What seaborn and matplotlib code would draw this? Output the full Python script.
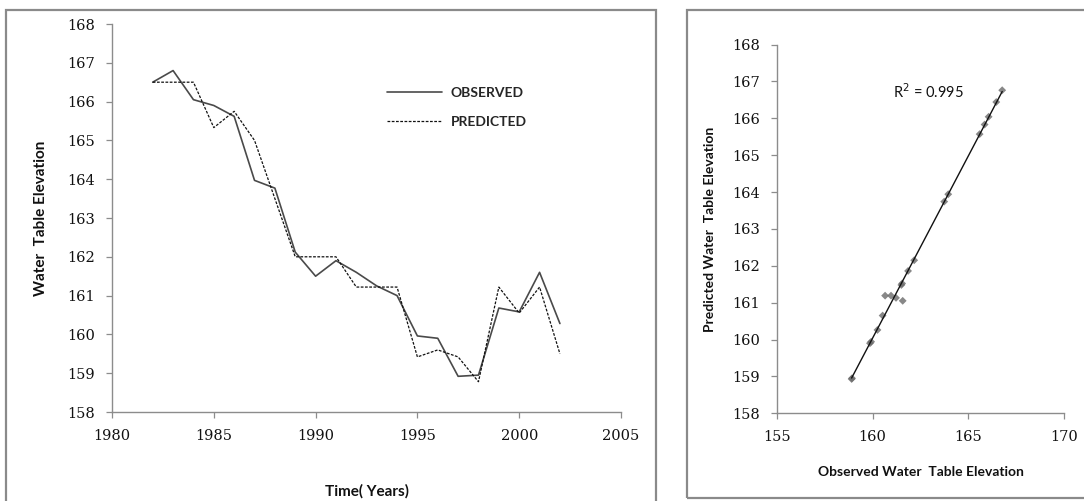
import numpy as np
import pandas as pd
import matplotlib
matplotlib.use("Agg")
import matplotlib.pyplot as plt
from matplotlib.patches import Rectangle
from matplotlib.lines import Line2D
import seaborn as sns

# ---- data ----
years = list(range(1982, 2003))
observed = [166.5, 166.8, 166.05, 165.9, 165.62, 163.97, 163.77, 162.12, 161.5, 161.9,
            161.6, 161.25, 161.0, 159.96, 159.9, 158.92, 158.95, 160.68, 160.58, 161.6, 160.28]
predicted = [166.5, 166.5, 166.5, 165.33, 165.75, 165.0, 163.5, 162.0, 162.0, 162.0,
             161.22, 161.22, 161.22, 159.42, 159.6, 159.42, 158.78, 161.22, 160.55, 161.22, 159.5]

scatter_obs = [166.77, 166.46, 166.06, 165.85, 165.59, 163.95, 163.74, 162.17, 161.85, 161.54,
               161.5, 160.65, 160.96, 161.22, 161.57, 160.52, 160.25, 159.92, 159.86, 158.92, 158.9]
scatter_pred = [166.76, 166.44, 166.04, 165.83, 165.57, 163.94, 163.74, 162.15, 161.86, 161.52,
                161.48, 161.19, 161.19, 161.13, 161.05, 160.65, 160.26, 159.94, 159.9, 158.95, 158.93]

left_xticks = [1980, 1985, 1990, 1995, 2000, 2005]
yticks = list(range(158, 169))
right_xticks = [155, 160, 165, 170]
r2_text = "R$^2$ = 0.995"

sns.set_theme(style="white")
plt.rcParams['font.family'] = ['DejaVu Serif']

W, H = 1084, 501
fig = plt.figure(figsize=(W / 100, H / 100), dpi=100)

def frac(x0, y0, x1, y1):
    return [x0 / W, 1 - y1 / H, (x1 - x0) / W, (y1 - y0) / H]

# outer frames
fig.add_artist(Rectangle((6 / W, 1 - 506 / H), (655.7 - 6) / W, (506 - 10) / H,
                         transform=fig.transFigure, fill=False, edgecolor='#8a8a8a', lw=1.6))
fig.add_artist(Rectangle((686.7 / W, 1 - 498 / H), (1090 - 686.7) / W, (498 - 10) / H,
                         transform=fig.transFigure, fill=False, edgecolor='#8a8a8a', lw=1.6))

label_font = dict(family='Lato', weight='bold', size=11, color='#111111')
tick_color = '#111111'
spine_color = '#8c8c8c'

def style_axes(ax):
    for s in ['top', 'right']:
        ax.spines[s].set_visible(False)
    for s in ['left', 'bottom']:
        ax.spines[s].set_color(spine_color)
        ax.spines[s].set_linewidth(1.0)
    ax.tick_params(axis='both', which='major', direction='out', length=4, width=0.9,
                   color=spine_color, labelsize=10.5, labelcolor=tick_color, pad=8,
                   left=True, bottom=True)
    ax.grid(False)

# ---- left: time series ----
ax1 = fig.add_axes(frac(112, 24, 621, 412))
df = pd.DataFrame({'year': years + years,
                   'value': observed + predicted,
                   'series': ['OBSERVED'] * len(years) + ['PREDICTED'] * len(years)})
sns.lineplot(data=df[df.series == 'OBSERVED'], x='year', y='value', ax=ax1,
             color='#4a4a4a', lw=1.2)
sns.lineplot(data=df[df.series == 'PREDICTED'], x='year', y='value', ax=ax1,
             color='#111111', lw=0.9, dashes=False, linestyle=(0, (2.2, 1.2)))
ax1.set_xlim(1980, 2005)
ax1.set_ylim(158, 168)
ax1.set_xticks(left_xticks)
ax1.set_yticks(yticks)
style_axes(ax1)
ax1.set_xlabel('Time( Years)', fontdict=label_font, labelpad=30)
ax1.set_ylabel('Water  Table Elevation', fontdict=label_font, labelpad=14)
handles = [Line2D([0], [0], color='#4a4a4a', lw=1.2),
           Line2D([0], [0], color='#111111', lw=0.9, linestyle=(0, (2.2, 1.2)))]
leg = ax1.legend(handles, ['OBSERVED', 'PREDICTED'], loc='upper left',
                 bbox_to_anchor=(0.515, 0.87), frameon=False, handlelength=4.0,
                 labelspacing=1.25, handletextpad=0.6,
                 prop=dict(family='Lato', weight='bold', size=10))

# ---- right: scatter ----
ax2 = fig.add_axes(frac(777, 44.5, 1064, 413.3))
sdf = pd.DataFrame({'obs': scatter_obs, 'pred': scatter_pred})
sns.regplot(data=sdf, x='obs', y='pred', ax=ax2, ci=None, marker='D',
            scatter_kws=dict(color='#6a6a6a', s=16, edgecolors='none'),
            line_kws=dict(color='#111111', lw=1.0))
ax2.set_xlim(155, 170)
ax2.set_ylim(158, 168)
ax2.set_xticks(right_xticks)
ax2.set_yticks(yticks)
style_axes(ax2)
ax2.set_xlabel('Observed Water  Table Elevation', fontdict=dict(label_font, size=10), labelpad=16)
ax2.set_ylabel('Predicted Water  Table Elevation', fontdict=dict(label_font, size=10), labelpad=12)
ax2.text(162.9, 166.72, r2_text, ha='center', va='center',
         fontdict=dict(family='Lato', size=10.5, color='#111111'))

fig.savefig('out.png', dpi=100)
